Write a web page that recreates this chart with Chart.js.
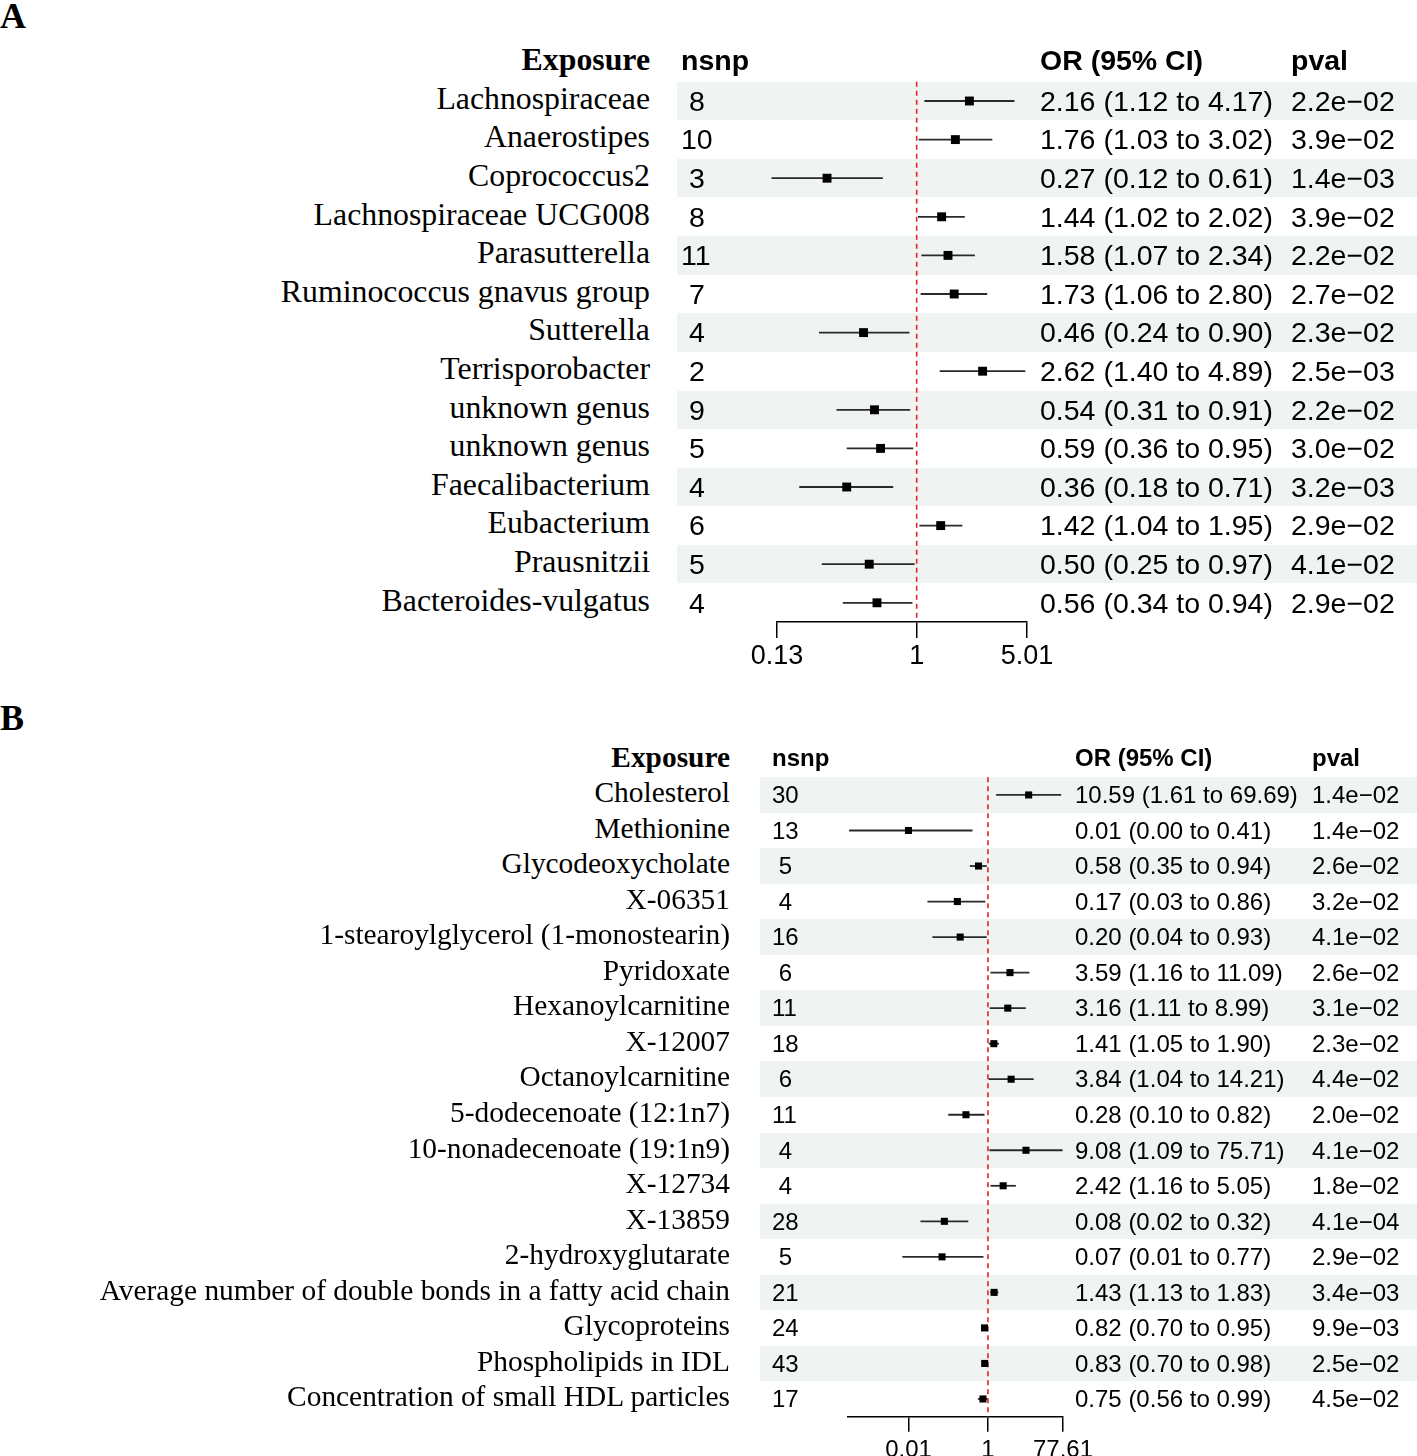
<!DOCTYPE html>
<html><head><meta charset="utf-8">
<script src="https://cdn.jsdelivr.net/npm/chart.js@4/dist/chart.umd.min.js"></script>
<style>
html,body{margin:0;padding:0;background:#fff;}
#root{position:relative;width:1417px;height:1456px;overflow:hidden;}
.t{position:absolute;white-space:pre;color:#000;}
.serif{font-family:"Liberation Serif","Times New Roman",serif;}
.sans{font-family:"Liberation Sans",Arial,sans-serif;}
.shade{position:absolute;background:#eff3f2;}
canvas{position:absolute;}
</style></head><body><div id="root"></div>
<script>
// ---------- Panel A data ----------
const exposureA = ["Lachnospiraceae","Anaerostipes","Coprococcus2","Lachnospiraceae UCG008","Parasutterella","Ruminococcus gnavus group","Sutterella","Terrisporobacter","unknown genus","unknown genus","Faecalibacterium","Eubacterium","Prausnitzii","Bacteroides-vulgatus"];
const nsnpA = [8,10,3,8,11,7,4,2,9,5,4,6,5,4];
const orA = [2.16,1.76,0.27,1.44,1.58,1.73,0.46,2.62,0.54,0.59,0.36,1.42,0.50,0.56];
const loA = [1.12,1.03,0.12,1.02,1.07,1.06,0.24,1.40,0.31,0.36,0.18,1.04,0.25,0.34];
const hiA = [4.17,3.02,0.61,2.02,2.34,2.80,0.90,4.89,0.91,0.95,0.71,1.95,0.97,0.94];
const pvalA = [2.2e-2,3.9e-2,1.4e-3,3.9e-2,2.2e-2,2.7e-2,2.3e-2,2.5e-3,2.2e-2,3.0e-2,3.2e-3,2.9e-2,4.1e-2,2.9e-2];
const ticksA = [0.13, 1, 5.01];
const rangeA = [0.13, 5.01];

// ---------- Panel B data ----------
const exposureB = ["Cholesterol","Methionine","Glycodeoxycholate","X-06351","1-stearoylglycerol (1-monostearin)","Pyridoxate","Hexanoylcarnitine","X-12007","Octanoylcarnitine","5-dodecenoate (12:1n7)","10-nonadecenoate (19:1n9)","X-12734","X-13859","2-hydroxyglutarate","Average number of double bonds in a fatty acid chain","Glycoproteins","Phospholipids in IDL","Concentration of small HDL particles"];
const nsnpB = [30,13,5,4,16,6,11,18,6,11,4,4,28,5,21,24,43,17];
const orB = [10.59,0.01,0.58,0.17,0.20,3.59,3.16,1.41,3.84,0.28,9.08,2.42,0.08,0.07,1.43,0.82,0.83,0.75];
const loB = [1.61,0.00032,0.35,0.03,0.04,1.16,1.11,1.05,1.04,0.10,1.09,1.16,0.02,0.007,1.13,0.70,0.70,0.56];
const hiB = [69.69,0.41,0.94,0.86,0.93,11.09,8.99,1.90,14.21,0.82,75.71,5.05,0.32,0.77,1.83,0.95,0.98,0.99];
const pvalB = [1.4e-2,1.4e-2,2.6e-2,3.2e-2,4.1e-2,2.6e-2,3.1e-2,2.3e-2,4.4e-2,2.0e-2,4.1e-2,1.8e-2,4.1e-4,2.9e-2,3.4e-3,9.9e-3,2.5e-2,4.5e-2];
const ticksB = [0.01, 1, 77.61];
const rangeB = [0.00032, 77.61];

const root = document.getElementById('root');
function fmtP(p){
  const [m,e] = p.toExponential(1).split('e');
  const n = parseInt(e,10);
  return m + 'e' + (n < 0 ? '\u2212' : '+') + String(Math.abs(n)).padStart(2,'0');
}
function addText(txt, cls, css){
  const d = document.createElement('div');
  d.className = 't ' + cls;
  d.textContent = txt;
  Object.assign(d.style, css);
  root.appendChild(d);
  return d;
}

function makePanel(cfg, exposure, nsnp, or, lo, hi, pval, ticks, range){
  const n = exposure.length, H = cfg.rowH;
  for (let i = 0; i < n; i += 2){
    const s = document.createElement('div');
    s.className = 'shade';
    Object.assign(s.style, {left: cfg.shadeLeft+'px', width: (1417-cfg.shadeLeft)+'px', top: (cfg.top + i*H)+'px', height: H+'px'});
    root.appendChild(s);
  }
  const padL = 60, padR = 60;
  const cTop = Math.floor(cfg.top) - 10, padT = cfg.top - cTop;
  const cLeft = cfg.chartLeft - padL, cW = cfg.chartRight + padR - cLeft;
  const cH = Math.ceil(padT + n*H + cfg.axisH);
  const axisH = cH - padT - n*H;
  const cv = document.createElement('canvas');
  cv.width = cW; cv.height = cH;
  Object.assign(cv.style, {left: cLeft+'px', top: cTop+'px', width: cW+'px', height: cH+'px'});
  root.appendChild(cv);

  const rowTop = i => (cfg.top + i*H) + 'px';
  const base = {height: H+'px', lineHeight: H+'px'};
  addText('Exposure','serif',Object.assign({right:(1417-cfg.labelRight)+'px', top: rowTop(-1), fontSize: cfg.labelFont+'px', fontWeight:'bold', textAlign:'right', marginTop: cfg.hdrShift+'px'}, base));
  addText('nsnp','sans',Object.assign({left: cfg.nsnpLeft+'px', top: rowTop(-1), fontSize: cfg.numFont+'px', fontWeight:'bold', marginTop: cfg.hdrShift+'px'}, base));
  addText('OR (95% CI)','sans',Object.assign({left: cfg.orLeft+'px', top: rowTop(-1), fontSize: cfg.numFont+'px', fontWeight:'bold', marginTop: cfg.hdrShift+'px'}, base));
  addText('pval','sans',Object.assign({left: cfg.pvalLeft+'px', top: rowTop(-1), fontSize: cfg.numFont+'px', fontWeight:'bold', marginTop: cfg.hdrShift+'px'}, base));
  for (let i = 0; i < n; i++){
    addText(exposure[i],'serif',Object.assign({right:(1417-cfg.labelRight)+'px', top: rowTop(i), fontSize: cfg.labelFont+'px', textAlign:'right', marginTop: cfg.labelShift+'px'}, base));
    addText(String(nsnp[i]).padStart(2,' '),'sans',Object.assign({left: cfg.nsnpLeft+'px', top: rowTop(i), fontSize: cfg.numFont+'px'}, base));
    addText(`${or[i].toFixed(2)} (${lo[i].toFixed(2)} to ${hi[i].toFixed(2)})`,'sans',Object.assign({left: cfg.orLeft+'px', top: rowTop(i), fontSize: cfg.numFont+'px'}, base));
    addText(fmtP(pval[i]),'sans',Object.assign({left: cfg.pvalLeft+'px', top: rowTop(i), fontSize: cfg.numFont+'px'}, base));
  }

  const datasets = [];
  datasets.push({data: or.map((v,i)=>({x:v,y:i})), pointStyle:'rect', pointRadius: cfg.ptR, backgroundColor:'#000', borderColor:'#000', borderWidth:0, showLine:false, clip:false});
  datasets.push({data:[{x:1,y:-0.5},{x:1,y:n-0.5}], showLine:true, borderColor:'#e8202a', borderWidth:1.6, borderDash:[5,4], pointRadius:0, clip:false});
  for (let i = 0; i < n; i++){
    datasets.push({data:[{x:lo[i],y:i},{x:hi[i],y:i}], showLine:true, borderColor:'#2a2a2a', borderWidth:1.8, pointRadius:0, clip:false});
  }
  new Chart(cv, {
    type:'scatter',
    data:{datasets},
    options:{
      responsive:false, animation:false, devicePixelRatio:1,
      layout:{padding:{left:padL, right:padR, top:padT, bottom:0}},
      plugins:{legend:{display:false}, tooltip:{enabled:false}},
      scales:{
        x:{type:'logarithmic', min:range[0], max:range[1],
           afterBuildTicks:s=>{ s.ticks = ticks.map(v=>({value:v})); },
           afterFit:s=>{ s.height = axisH; },
           ticks:{autoSkip:false, maxRotation:0, minRotation:0, padding:cfg.tickPad, color:'#000',
                  font:{family:'"Liberation Sans", Arial, sans-serif', size:cfg.tickFont},
                  callback:(v,i)=>String(ticks[i])},
           grid:{display:true, drawOnChartArea:false, drawTicks:true, tickLength:cfg.tickLen, color:'#000', lineWidth:1.5},
           border:{display:true, color:'#000', width:1.5}},
        y:{type:'linear', reverse:true, min:-0.5, max:n-0.5, display:false}
      }
    }
  });
}

addText('A','serif',{left:'0px', top:'-4px', fontSize:'36px', fontWeight:'bold', lineHeight:'40px'});
addText('B','serif',{left:'0px', top:'698px', fontSize:'36px', fontWeight:'bold', lineHeight:'40px'});

makePanel({top:81.7, rowH:38.6, labelRight:650, nsnpLeft:681, orLeft:1040, pvalLeft:1291, shadeLeft:677,
           chartLeft:777, chartRight:1027, labelFont:31.8, numFont:28.5, tickFont:27, axisH:50, tickLen:16, tickPad:2, ptR:6.3, labelShift:-2, hdrShift:-2},
          exposureA, nsnpA, orA, loA, hiA, pvalA, ticksA, rangeA);
makePanel({top:777.2, rowH:35.53, labelRight:730, nsnpLeft:772, orLeft:1075, pvalLeft:1312, shadeLeft:760,
           chartLeft:848, chartRight:1063, labelFont:29.4, numFont:24, tickFont:24, axisH:45, tickLen:15, tickPad:4, ptR:5, labelShift:-2, hdrShift:-2},
          exposureB, nsnpB, orB, loB, hiB, pvalB, ticksB, rangeB);
</script></body></html>
